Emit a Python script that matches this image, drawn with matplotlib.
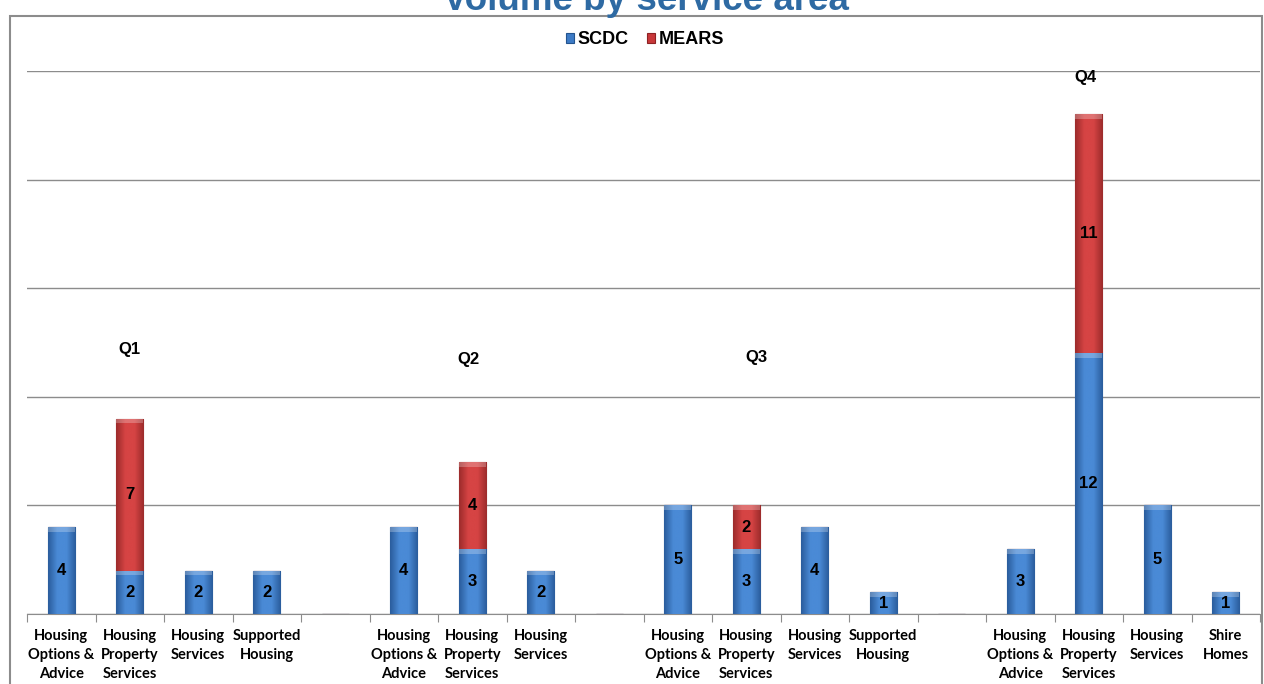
import numpy as np
import matplotlib
matplotlib.use("Agg")
import matplotlib.pyplot as plt
from matplotlib.colors import LinearSegmentedColormap
from matplotlib.patches import Rectangle

# service areas per quarter; blank slots separate the quarters
categories = [
    "Housing\nOptions &\nAdvice", "Housing\nProperty\nServices", "Housing\nServices", "Supported\nHousing", "",
    "Housing\nOptions &\nAdvice", "Housing\nProperty\nServices", "Housing\nServices", "",
    "Housing\nOptions &\nAdvice", "Housing\nProperty\nServices", "Housing\nServices", "Supported\nHousing", "",
    "Housing\nOptions &\nAdvice", "Housing\nProperty\nServices", "Housing\nServices", "Shire\nHomes",
]
scdc = [4, 2, 2, 2, 0, 4, 3, 2, 0, 5, 3, 4, 1, 0, 3, 12, 5, 1]
mears = [0, 7, 0, 0, 0, 0, 4, 0, 0, 0, 2, 0, 0, 0, 0, 11, 0, 0]
quarters = ["Q1", "Q2", "Q3", "Q4"]
quarter_pos = [(1.0, 12.2), (5.95, 11.7), (10.15, 11.8), (14.95, 24.7)]

BLUE = "#3d7bc6"
BLUE_DARK = "#23548f"
RED = "#c8383a"
RED_DARK = "#8e2224"

fig = plt.figure(figsize=(12.64, 6.84), dpi=100)
ax = fig.add_axes([27 / 1264, 70 / 684, 1233 / 1264, 543 / 684])

x = np.arange(len(categories))
width = 0.4


def shaded(bars, light, dark):
    cmap = LinearSegmentedColormap.from_list("bevel", [dark, light, light, dark])
    grad = np.linspace(0, 1, 64).reshape(1, -1)
    for b in bars:
        h = b.get_height()
        if h <= 0:
            continue
        x0, y0, w = b.get_x(), b.get_y(), b.get_width()
        im = ax.imshow(grad, cmap=cmap, extent=(x0, x0 + w, y0, y0 + h),
                       aspect="auto", zorder=3, interpolation="bicubic")
        im.set_clip_path(b)
        # lighter bevel on the top edge
        ax.add_patch(Rectangle((x0, y0 + h - 0.22), w, 0.22, facecolor="white",
                               alpha=0.25, lw=0, zorder=4, clip_path=b))


b1 = ax.bar(x, scdc, width, color=BLUE, edgecolor=BLUE_DARK, lw=0.8, zorder=3, label="SCDC")
b2 = ax.bar(x, mears, width, bottom=scdc, color=RED, edgecolor=RED_DARK, lw=0.8, zorder=3, label="MEARS")
shaded(b1, "#4a8ad6", "#2a5c9c")
shaded(b2, "#d64444", "#9c2b2b")

# value labels in the middle of each segment
for i in x:
    if scdc[i]:
        ax.text(i, scdc[i] / 2, str(scdc[i]), ha="center", va="center",
                fontsize=12, fontweight="bold", family="Liberation Sans", zorder=6)
    if mears[i]:
        ax.text(i, scdc[i] + mears[i] / 2, str(mears[i]), ha="center", va="center",
                fontsize=12, fontweight="bold", family="Liberation Sans", zorder=6)

for q, (qx, qy) in zip(quarters, quarter_pos):
    ax.text(qx, qy, q, ha="center", va="center", fontsize=12, fontweight="bold",
            family="Liberation Sans")

ax.set_xlim(-0.5, len(categories) - 0.5)
ax.set_ylim(0, 25)
ax.set_yticks(np.arange(0, 26, 5))
ax.yaxis.grid(True, color="#8c8c8c", lw=1)
ax.set_axisbelow(True)
ax.tick_params(axis="y", left=False, labelleft=False)
for s in ["left", "right", "top"]:
    ax.spines[s].set_visible(False)
ax.spines["bottom"].set_color("#8c8c8c")

# ticks sit between the categories, labels at the bar centres
ax.set_xticks(np.arange(-0.5, len(categories)), minor=False)
ax.set_xticklabels([])
ax.tick_params(axis="x", direction="out", length=6, color="#8c8c8c")
ax.set_xticks(x, minor=True)
ax.set_xticklabels(categories, minor=True, fontsize=10.5, fontweight="bold",
                   family="Lato", linespacing=1.45)
ax.tick_params(axis="x", which="minor", length=0, pad=11)

leg = fig.legend(handles=[b1, b2], labels=["SCDC", "MEARS"], loc="center",
                 bbox_to_anchor=(645 / 1264, 1 - 40 / 684), ncol=2, frameon=False,
                 prop={"family": "Liberation Sans", "weight": "bold", "size": 13},
                 handlelength=0.45, handleheight=0.45, handletextpad=0.2, columnspacing=1.0)

fig.text(646 / 1264, 1 - 10 / 684, "Volume by service area", ha="center", va="baseline",
         fontsize=26.5, fontweight="bold", family="Liberation Sans", color="#2e6aa3")

# outer chart frame
fig.patches.append(Rectangle((10 / 1264, -0.05), 1252 / 1264, 1.05 - 16 / 684,
                             transform=fig.transFigure, fill=False, edgecolor="#8c8c8c",
                             lw=1.5))

fig.savefig("out.png", dpi=100)
